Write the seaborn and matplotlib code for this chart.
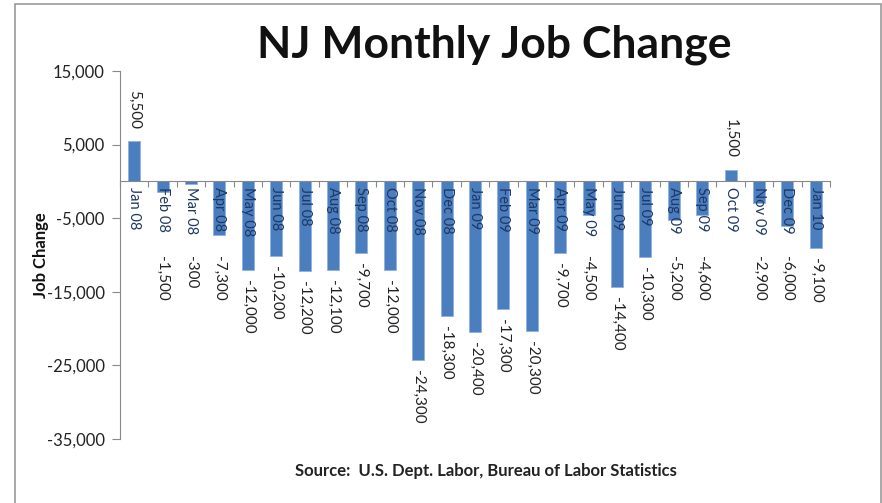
import matplotlib
matplotlib.use("Agg")
import matplotlib.pyplot as plt
import matplotlib.ticker as mticker
from matplotlib.patches import Rectangle
import seaborn as sns
import pandas as pd

months = ["Jan 08", "Feb 08", "Mar 08", "Apr 08", "May 08", "Jun 08", "Jul 08",
          "Aug 08", "Sep 08", "Oct 08", "Nov 08", "Dec 08", "Jan 09", "Feb 09",
          "Mar 09", "Apr 09", "May 09", "Jun 09", "Jul 09", "Aug 09", "Sep 09",
          "Oct 09", "Nov 09", "Dec 09", "Jan 10"]
job_change = [5500, -1500, -300, -7300, -12000, -10200, -12200, -12100, -9700,
              -12000, -24300, -18300, -20400, -17300, -20300, -9700, -4500,
              -14400, -10300, -5200, -4600, 1500, -2900, -6000, -9100]
y_ticks = [15000, 5000, -5000, -15000, -25000, -35000]

sns.set_theme(style="white")
plt.rcParams['font.family'] = ['Lato', 'DejaVu Sans']

df = pd.DataFrame({"Month": months, "Change": job_change})

fig = plt.figure(figsize=(8.82, 5.03), dpi=100)
ax = fig.add_axes([120/882, 1-439/503, 710/882, (439-71)/503])

sns.barplot(data=df, x="Month", y="Change", color="#4a7ebf", saturation=1,
            width=0.42, edgecolor="#8fb2dd", linewidth=0.6, ax=ax)

ax.set_xlim(-0.5, len(months) - 0.5)
ax.set_ylim(-35000, 15000)
ax.set_axisbelow(False)
ax.set_yticks(y_ticks)
ax.yaxis.set_major_formatter(mticker.FuncFormatter(lambda v, p: f"{v:,.0f}"))
ax.tick_params(axis='y', which='major', length=6, width=0.8, color='#888888',
               labelsize=12, labelcolor='#222222', pad=5, left=True)

for s in ['top', 'right']:
    ax.spines[s].set_visible(False)
ax.spines['left'].set_color('#888888')
ax.spines['left'].set_linewidth(0.8)
ax.spines['bottom'].set_position(('data', 0))
ax.spines['bottom'].set_color('#888888')
ax.spines['bottom'].set_linewidth(0.8)

ax.set_xticks(range(len(months)))
ax.set_xticklabels(months, rotation=270, fontsize=10.5, color='#1f3864')
ax.set_xticks([i - 0.5 for i in range(len(months) + 1)], minor=True)
ax.tick_params(axis='x', which='major', length=0, pad=4)
ax.tick_params(axis='x', which='minor', length=4, width=0.8, color='#888888', bottom=True)
for lab in ax.get_xticklabels():
    lab.set_va('top')

ax.set_xlabel("")
ax.set_ylabel("Job Change", fontsize=12, fontweight='bold', color='#111111')
ax.yaxis.set_label_coords(-0.1, 0.5)

# value labels: outside the bar end; short negative bars put the label past the month name
px_per_unit = (ax.transData.transform((0, 0))[1] - ax.transData.transform((0, -10000))[1]) / 10000
clear_px = 75  # distance below the zero line that clears the month labels
for i, v in enumerate(job_change):
    bar_px = abs(v) * px_per_unit
    if v >= 0:
        off_px = bar_px + 12
        va = 'bottom'
    else:
        off_px = -max(bar_px + 10, clear_px)
        va = 'top'
    ax.annotate(f"{v:,.0f}", xy=(i, 0), xytext=(0, off_px * 72 / fig.dpi),
                textcoords='offset points', rotation=270, ha='center', va=va,
                fontsize=11, color='#222222')

fig.text(494/882, 1-45/503, "NJ Monthly Job Change", ha='center', va='center',
         fontsize=32, fontweight='bold', color='#111111')
fig.text(486/882, 1-471/503, "Source:  U.S. Dept. Labor, Bureau of Labor Statistics",
         ha='center', va='center', fontsize=12, fontweight='bold', color='#222222')

fig.patches.append(Rectangle((15/882, -0.05), (881-15)/882, 1.05 - 4/503,
                             transform=fig.transFigure, fill=False,
                             edgecolor='#9a9a9a', linewidth=1.2))

fig.savefig("out.png", dpi=100)
